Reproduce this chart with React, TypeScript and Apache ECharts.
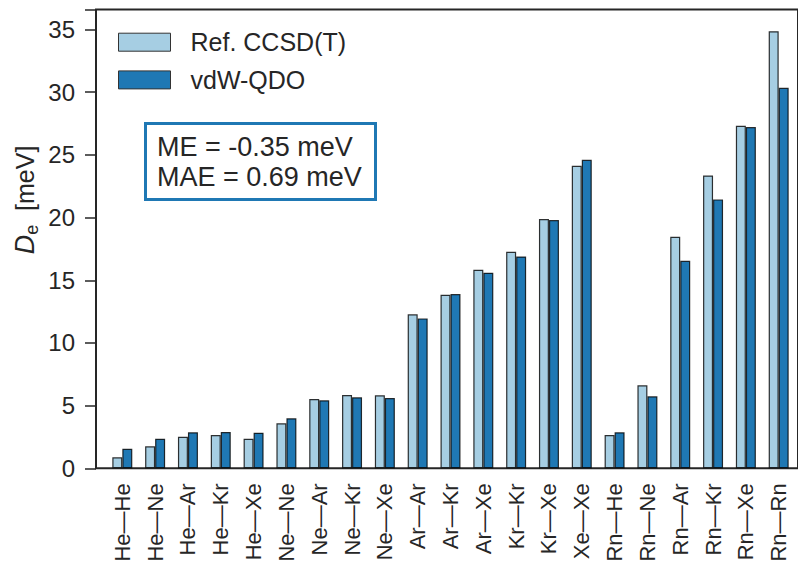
import React, { useEffect, useRef } from "react";
import * as echarts from "echarts";

// Noble-gas dimer pairs
const categories = [
  "He—He", "He—Ne", "He—Ar", "He—Kr", "He—Xe", "Ne—Ne", "Ne—Ar", "Ne—Kr", "Ne—Xe",
  "Ar—Ar", "Ar—Kr", "Ar—Xe", "Kr—Kr", "Kr—Xe", "Xe—Xe",
  "Rn—He", "Rn—Ne", "Rn—Ar", "Rn—Kr", "Rn—Xe", "Rn—Rn",
];

// Binding energies D_e in meV
const refCCSDT = [
  0.88, 1.75, 2.52, 2.65, 2.36, 3.59, 5.53, 5.85, 5.82,
  12.28, 13.85, 15.84, 17.27, 19.88, 24.13,
  2.66, 6.62, 18.47, 23.36, 27.32, 34.87,
];
const vdwQDO = [
  1.56, 2.36, 2.87, 2.9, 2.84, 3.99, 5.42, 5.66, 5.61,
  11.96, 13.9, 15.6, 16.9, 19.8, 24.61,
  2.87, 5.74, 16.55, 21.45, 27.22, 30.35,
];

const yTicks = [0, 5, 10, 15, 20, 25, 30, 35];
const statLines = ["ME = -0.35 meV", "MAE = 0.69 meV"];

const FONT = "'Liberation Sans', Arial, Helvetica, sans-serif";
const INK = "#262626";
const LIGHT = "#a6cee3";
const DARK = "#1f78b4";

const Y_MAX = 36.6;
const GRID_TOP = 9.5;
const GRID_BOTTOM = 96.7;

export default function App() {
  const ref = useRef<HTMLDivElement>(null);

  useEffect(() => {
    if (!ref.current) return;
    const chart = echarts.init(ref.current, undefined, { renderer: "svg" });

    const barBorder = { borderColor: "rgba(0,0,0,0.8)", borderWidth: 1.2 };

    chart.setOption({
      animation: false,
      backgroundColor: "#ffffff",
      textStyle: { fontFamily: FONT, color: INK },
      grid: [
        // frame with the y scale
        {
          left: 96, right: -30, top: GRID_TOP, bottom: GRID_BOTTOM,
          show: true, borderColor: INK, borderWidth: 2, backgroundColor: "transparent",
        },
        // bars
        { left: 105.9, width: 689.2, top: GRID_TOP, bottom: GRID_BOTTOM },
      ],
      legend: {
        orient: "vertical",
        left: 118,
        top: 29.7,
        padding: 0,
        itemWidth: 52,
        itemHeight: 18,
        itemGap: 12.7,
        icon: "rect",
        itemStyle: { borderColor: "#333", borderWidth: 1 },
        textStyle: {
          fontFamily: FONT, fontSize: 25, lineHeight: 24, color: INK, padding: [0, 0, 0, 15],
        },
        data: ["Ref. CCSD(T)", "vdW-QDO"],
      },
      xAxis: [
        { type: "value", gridIndex: 0, min: 0, max: 1, show: false },
        {
          type: "category",
          gridIndex: 1,
          data: categories,
          axisLine: { show: false },
          axisTick: { show: false },
          axisLabel: {
            rotate: 90,
            margin: 15,
            fontFamily: FONT,
            fontSize: 22,
            color: INK,
            interval: 0,
          },
        },
      ],
      yAxis: [
        {
          type: "value",
          gridIndex: 0,
          min: 0,
          max: Y_MAX,
          interval: 5,
          splitLine: { show: false },
          axisLine: { show: false },
          axisTick: { show: true, length: 11, lineStyle: { color: INK, width: 1.5 } },
          axisLabel: {
            margin: 21,
            fontFamily: FONT,
            fontSize: 24,
            color: INK,
            formatter: (v: number) => (yTicks.includes(v) ? String(v) : ""),
          },
        },
        { type: "value", gridIndex: 1, min: 0, max: Y_MAX, show: false },
      ],
      series: [
        {
          name: "Ref. CCSD(T)",
          type: "bar",
          xAxisIndex: 1,
          yAxisIndex: 1,
          data: refCCSDT,
          barWidth: 10,
          barGap: "0%",
          itemStyle: { color: LIGHT, ...barBorder },
        },
        {
          name: "vdW-QDO",
          type: "bar",
          xAxisIndex: 1,
          yAxisIndex: 1,
          data: vdwQDO,
          barWidth: 10,
          barGap: "0%",
          itemStyle: { color: DARK, ...barBorder },
        },
      ],
      graphic: [
        {
          type: "text",
          x: 25,
          y: 200,
          rotation: Math.PI / 2,
          style: {
            text: "{d|D}{e|e}  [meV]",
            align: "center",
            verticalAlign: "middle",
            fill: INK,
            font: `25px ${FONT}`,
            rich: {
              d: { fontFamily: FONT, fontSize: 27, fontStyle: "italic", fill: INK },
              e: { fontFamily: FONT, fontSize: 18, fill: INK, padding: [13, 0, 0, 0] },
            },
          },
        },
        {
          type: "rect",
          shape: { x: 145.5, y: 123.5, width: 230, height: 76 },
          style: { fill: "#ffffff", stroke: DARK, lineWidth: 3 },
          z: 10,
        },
        {
          type: "text",
          x: 157,
          y: 162,
          z: 11,
          style: {
            text: statLines.join("\n"),
            fill: INK,
            font: `27px ${FONT}`,
            lineHeight: 30,
            align: "left",
            verticalAlign: "middle",
          },
        },
      ],
    });

    return () => chart.dispose();
  }, []);

  return (
    <div
      ref={ref}
      style={{ position: "fixed", left: 0, top: 0, width: 798, height: 565, background: "#fff" }}
    />
  );
}
